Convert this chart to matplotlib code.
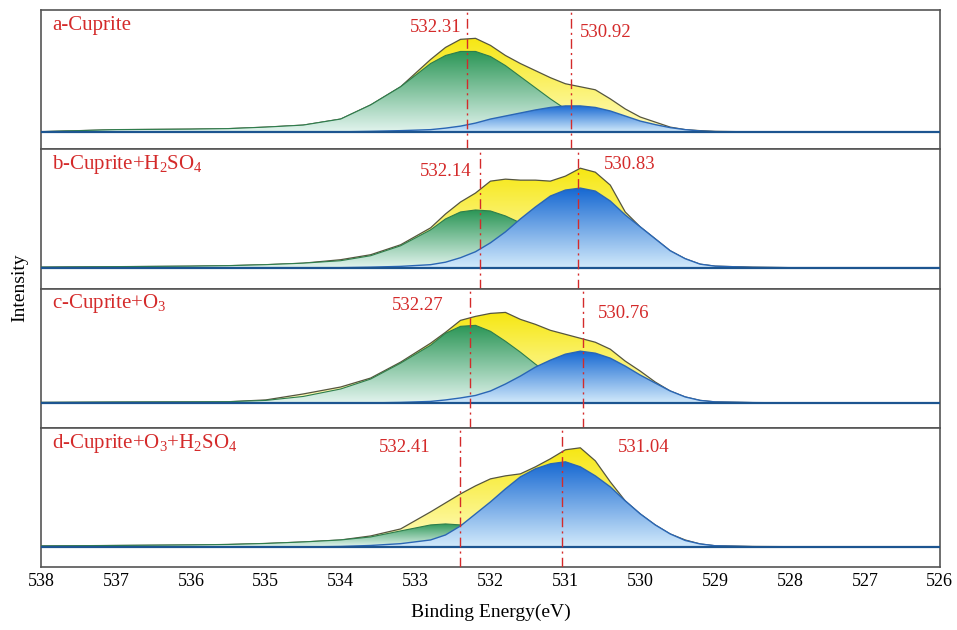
import numpy as np
import matplotlib
matplotlib.use("Agg")
import matplotlib.pyplot as plt
from matplotlib.colors import LinearSegmentedColormap
from matplotlib.patches import Polygon

plt.rcParams["font.family"] = ["Liberation Serif", "DejaVu Serif"]
plt.rcParams["mathtext.default"] = "regular"

# binding energy grid (eV), shared by all panels
energy = [538, 537, 536, 535.5, 535, 534.5, 534, 533.6, 533.2, 532.8,
          532.6, 532.4, 532.2, 532.0, 531.8, 531.6, 531.4, 531.2, 531.0, 530.8,
          530.6, 530.4, 530.2, 530.0, 529.8, 529.6, 529.4, 529.2, 529.0, 528.5,
          528, 527, 526]

# a-Cuprite
total_a = [0.5, 2.5, 3, 3.5, 5, 7, 13, 27, 45, 72, 84, 92, 93, 86, 76, 68, 61, 54, 48, 45,
           42, 33, 23, 15, 10, 5, 2.5, 1.5, 0.8, 0.3, 0, 0, 0]
green_a = [0.5, 2.5, 3, 3.5, 5, 7, 13, 27, 45, 68, 76, 80, 80, 75, 66, 55, 44, 33, 23, 15,
           9, 5, 2.5, 1, 0.5, 0, 0, 0, 0, 0, 0, 0, 0]
blue_a = [0, 0, 0, 0, 0, 0, 0.3, 0.8, 1.5, 2.5, 4, 6, 9, 13, 16, 19, 22, 24.5, 26, 26,
          24.5, 21, 16, 11, 7.5, 4.5, 2.5, 1.2, 0.5, 0, 0, 0, 0]

# b-Cuprite+H2SO4
total_b = [0.5, 1, 1.5, 2, 3, 4.5, 8, 13, 23, 40, 54, 66, 75, 87, 89, 88, 88, 87, 92, 100,
           96, 83, 56, 41, 29, 17, 9, 3.5, 1.5, 0.5, 0, 0, 0]
green_b = [0.5, 1, 1.5, 2, 3, 4.5, 7, 12, 22, 38, 49, 56, 58, 57, 52, 45, 36, 27, 19, 12,
           7, 4, 2, 1, 0.5, 0, 0, 0, 0, 0, 0, 0, 0]
blue_b = [0, 0, 0, 0, 0, 0, 0, 0.5, 1.3, 3, 5.5, 10, 16, 25, 36, 49, 61, 72, 78, 80,
          77, 67, 53, 41, 29, 17, 9, 3.5, 1.5, 0.3, 0, 0, 0]

# c-Cuprite+O3
total_c = [0.5, 0.8, 1, 1.2, 3, 9, 16, 25, 41, 60, 71, 83, 87, 90, 91, 84, 79, 73, 69, 65,
           61, 54, 42, 32, 21, 12, 6, 2.5, 1, 0.3, 0, 0, 0]
green_c = [0.5, 0.8, 1, 1.2, 2.5, 6.5, 14, 24, 40, 58, 70, 77, 78, 72, 62, 51, 39, 28, 19, 12,
           7, 4, 2, 1, 0.5, 0, 0, 0, 0, 0, 0, 0, 0]
blue_c = [0, 0, 0, 0, 0, 0, 0, 0, 0.5, 1.5, 3, 5, 7.5, 12, 19, 27, 36, 43, 49, 52,
          50, 45, 37, 28, 20, 12, 6, 2.5, 1, 0.3, 0, 0, 0]

# d-Cuprite+O3+H2SO4
total_d = [1, 1.5, 2, 2.5, 3.5, 5, 7, 11, 18, 35, 44, 53, 61, 68, 71, 73, 80, 88, 97, 99,
           86, 65, 46, 33, 22, 13, 7, 3, 1.2, 0.5, 0.3, 0.2, 0]
green_d = [1, 1.5, 2, 2.5, 3.5, 5, 7, 10, 16, 22, 23, 22, 19, 15, 10, 6, 3, 1.5, 0.5, 0,
           0, 0, 0, 0, 0, 0, 0, 0, 0, 0, 0, 0, 0]
blue_d = [0, 0, 0, 0, 0, 0, 0.5, 1.5, 3.3, 7, 12, 21, 33, 45, 58, 70, 78, 83, 85, 80,
          71, 60, 46, 33, 22, 13, 6.5, 3, 1.2, 0.3, 0, 0, 0]

labels = ["a-Cuprite", "b-Cuprite+H$_2$SO$_4$", "c-Cuprite+O$_3$",
          "d-Cuprite+O$_3$+H$_2$SO$_4$"]
peaks = [[532.31, 530.92], [532.14, 530.83], [532.27, 530.76], [532.41, 531.04]]
xticks = [538, 537, 536, 535, 534, 533, 532, 531, 530, 529, 528, 527, 526]

totals = [total_a, total_b, total_c, total_d]
greens = [green_a, green_b, green_c, green_d]
blues = [blue_a, blue_b, blue_c, blue_d]

# layout of each panel: y limits, peak label positions (x, y in axes fraction)
ylims = [(-17, 121), (-21, 119), (-25, 115), (-20, 119)]
lab_pos = [[(532.39, 0.877), (530.80, 0.84)],
           [(532.25, 0.843), (530.49, 0.893)],
           [(532.63, 0.879), (530.57, 0.821)],
           [(532.80, 0.856), (530.30, 0.856)]]

red = "#d42a2a"
grad = np.linspace(0, 1, 256).reshape(-1, 1)


def grad_fill(ax, x, y, c_bot, c_top, z):
    verts = list(zip(x, y)) + [(x[-1], 0), (x[0], 0)]
    patch = Polygon(verts, closed=True, facecolor="none", edgecolor="none")
    ax.add_patch(patch)
    cmap = LinearSegmentedColormap.from_list("g", [c_bot, c_top])
    im = ax.imshow(grad, cmap=cmap, origin="lower", aspect="auto",
                   extent=(538, 526, 0, max(y)), zorder=z, interpolation="bilinear")
    im.set_clip_path(patch)


fig, axes = plt.subplots(4, 1, figsize=(9.57, 6.3), dpi=100, sharex=True)
fig.subplots_adjust(left=0.043, right=0.982, top=0.984, bottom=0.1, hspace=0)

for i, ax in enumerate(axes):
    grad_fill(ax, energy, totals[i], "#fffcc4", "#f6e712", 1)
    ax.plot(energy, totals[i], color="#55553f", lw=0.9, zorder=2)
    grad_fill(ax, energy, greens[i], "#e2f4ee", "#2b9656", 3)
    ax.plot(energy, greens[i], color="#2d7d4c", lw=0.8, zorder=4)
    grad_fill(ax, energy, blues[i], "#d2eafb", "#1668d2", 5)
    ax.plot(energy, blues[i], color="#2a66b4", lw=1.0, zorder=6)
    ax.axhline(0, color="#1d5590", lw=1.6, zorder=7)

    for p, (lx, ly), ha in zip(peaks[i], lab_pos[i], ["right", "left"]):
        ax.axvline(p, color=red, lw=1.0, dashes=[7, 3, 1.5, 3], zorder=8)
        ax.text(lx, ly, "%.2f" % p, color=red, fontsize=13.5, ha=ha, va="center",
                transform=ax.get_xaxis_transform())

    ax.text(0.012, 0.89, labels[i], color=red, fontsize=15, ha="left", va="center",
            transform=ax.transAxes)

    ax.set_xlim(538, 526)
    ax.set_ylim(*ylims[i])
    ax.set_yticks([])
    for s in ax.spines.values():
        s.set_color("#555555")
        s.set_linewidth(1.2)
    ax.tick_params(axis="x", length=0, labelsize=13, pad=4)

axes[-1].set_xticks(xticks)
axes[-1].set_xticklabels([str(t) for t in xticks])
axes[-1].set_xlabel("Binding Energy(eV)", fontsize=14, labelpad=10)
fig.text(0.021, 0.543, "Intensity", rotation=90, fontsize=14, ha="center", va="center")

fig.savefig("out.png", dpi=100)
